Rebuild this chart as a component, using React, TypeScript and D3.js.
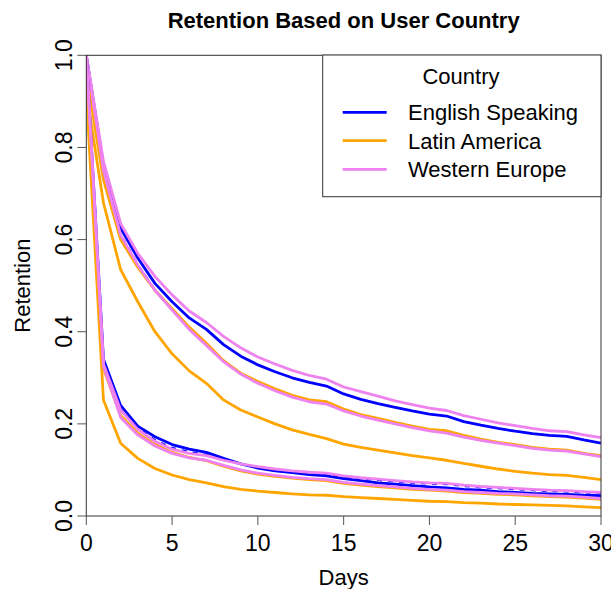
import React from "react";
import * as d3 from "d3";

// Days since signup
const days = d3.range(0, 31);

// Upper bundle of curves
const westernEuropeUpperA = [1.0, 0.77, 0.635, 0.57, 0.52, 0.48, 0.445, 0.42, 0.39, 0.365, 0.345, 0.33, 0.316, 0.305, 0.297, 0.28, 0.27, 0.26, 0.25, 0.242, 0.234, 0.229, 0.218, 0.21, 0.202, 0.196, 0.19, 0.185, 0.183, 0.176, 0.17];
const englishUpperA = [1.0, 0.76, 0.625, 0.56, 0.505, 0.465, 0.43, 0.405, 0.372, 0.347, 0.328, 0.313, 0.3, 0.29, 0.282, 0.265, 0.253, 0.244, 0.236, 0.228, 0.221, 0.217, 0.205, 0.197, 0.19, 0.184, 0.179, 0.175, 0.173, 0.165, 0.158];
const latinUpperA = [0.96, 0.73, 0.6, 0.54, 0.49, 0.45, 0.41, 0.375, 0.337, 0.31, 0.292, 0.276, 0.262, 0.252, 0.248, 0.232, 0.22, 0.212, 0.203, 0.195, 0.188, 0.185, 0.175, 0.167, 0.16, 0.155, 0.149, 0.145, 0.143, 0.136, 0.131];
const westernEuropeUpperB = [1.0, 0.75, 0.61, 0.545, 0.49, 0.447, 0.405, 0.37, 0.335, 0.308, 0.288, 0.272, 0.258, 0.248, 0.243, 0.228, 0.217, 0.208, 0.2, 0.192, 0.185, 0.18, 0.171, 0.164, 0.158, 0.153, 0.147, 0.143, 0.141, 0.135, 0.129];
const englishUpperB = [1.0, 0.752, 0.612, 0.546, 0.491, 0.448, 0.406, 0.371, 0.336, 0.309, 0.289, 0.273, 0.259, 0.249, 0.244, 0.229, 0.218, 0.209, 0.201, 0.193, 0.186, 0.181, 0.172, 0.165, 0.159, 0.154, 0.148, 0.144, 0.142, 0.136, 0.13];
const latinUpperB = [0.92, 0.68, 0.535, 0.465, 0.4, 0.352, 0.315, 0.288, 0.252, 0.23, 0.215, 0.2, 0.187, 0.177, 0.168, 0.156, 0.149, 0.143, 0.137, 0.131, 0.126, 0.121, 0.114, 0.108, 0.102, 0.097, 0.093, 0.09, 0.088, 0.084, 0.079];

// Lower bundle of curves
const englishLowerA = [1.0, 0.34, 0.24, 0.195, 0.172, 0.155, 0.145, 0.138, 0.125, 0.113, 0.104, 0.098, 0.094, 0.09, 0.087, 0.081, 0.077, 0.072, 0.069, 0.066, 0.063, 0.061, 0.058, 0.056, 0.053, 0.051, 0.049, 0.048, 0.047, 0.045, 0.044];
const westernEuropeLowerA = [1.0, 0.33, 0.23, 0.188, 0.162, 0.145, 0.136, 0.131, 0.121, 0.113, 0.107, 0.102, 0.098, 0.095, 0.093, 0.087, 0.083, 0.08, 0.077, 0.074, 0.072, 0.071, 0.067, 0.064, 0.062, 0.06, 0.058, 0.056, 0.055, 0.053, 0.051];
const latinLowerA = [0.95, 0.32, 0.218, 0.18, 0.155, 0.138, 0.127, 0.12, 0.108, 0.098, 0.091, 0.086, 0.082, 0.079, 0.077, 0.071, 0.067, 0.064, 0.061, 0.058, 0.056, 0.054, 0.051, 0.049, 0.047, 0.046, 0.044, 0.042, 0.041, 0.039, 0.036];
const westernEuropeLowerB = [1.0, 0.325, 0.214, 0.176, 0.152, 0.136, 0.126, 0.121, 0.11, 0.1, 0.093, 0.088, 0.084, 0.081, 0.079, 0.073, 0.069, 0.066, 0.063, 0.06, 0.058, 0.056, 0.053, 0.051, 0.049, 0.048, 0.046, 0.044, 0.043, 0.041, 0.038];
const englishLowerB = [0.92, 0.33, 0.232, 0.19, 0.165, 0.148, 0.139, 0.133, 0.122, 0.113, 0.106, 0.1, 0.096, 0.093, 0.091, 0.085, 0.081, 0.078, 0.075, 0.072, 0.07, 0.069, 0.065, 0.062, 0.06, 0.058, 0.056, 0.054, 0.053, 0.051, 0.049];
const latinLowerB = [0.92, 0.252, 0.158, 0.125, 0.103, 0.089, 0.079, 0.072, 0.064, 0.058, 0.054, 0.051, 0.048, 0.046, 0.045, 0.042, 0.04, 0.038, 0.036, 0.034, 0.032, 0.031, 0.029, 0.028, 0.026, 0.025, 0.024, 0.023, 0.022, 0.02, 0.018];

const countries = ["English Speaking", "Latin America", "Western Europe"];
const countryColors = ["#0000FF", "#FFA500", "#EE82EE"];

const xTicks = [0, 5, 10, 15, 20, 25, 30];
const yTicks = [0, 0.2, 0.4, 0.6, 0.8, 1.0];

type Series = { values: number[]; country: number; dashed?: boolean };

// dashed curves go first so the solid ones sit over them
const seriesList: Series[] = [
  { values: englishUpperB, country: 0, dashed: true },
  { values: englishLowerB, country: 0, dashed: true },
  { values: englishUpperA, country: 0 },
  { values: latinUpperA, country: 1 },
  { values: latinUpperB, country: 1 },
  { values: westernEuropeUpperA, country: 2 },
  { values: westernEuropeUpperB, country: 2 },
  { values: englishLowerA, country: 0 },
  { values: latinLowerA, country: 1 },
  { values: latinLowerB, country: 1 },
  { values: westernEuropeLowerA, country: 2 },
  { values: westernEuropeLowerB, country: 2 },
];

const W = 611;
const H = 589;
const left = 86.3;
const right = 601;
const top = 55.3;
const bottom = 516;
const font = "'Liberation Sans', Arial, Helvetica, sans-serif";

export default function App() {
  const x = d3.scaleLinear().domain([0, 30]).range([left, right]);
  const y = d3.scaleLinear().domain([0, 1]).range([bottom, top]);
  const line = d3
    .line<number>()
    .x((_, i) => x(days[i]))
    .y((v) => y(v));

  const legendX = 322.7;
  const legendY = 55;
  const legendW = right - legendX;
  const legendH = 141.7;
  const rowY = [112.3, 140.7, 169.3];

  return (
    <svg
      width={W}
      height={H}
      style={{ position: "absolute", left: 0, top: 0, background: "#fff" }}
      fontFamily={font}
    >
      <rect x={0} y={0} width={W} height={H} fill="#fff" />
      <defs>
        <clipPath id="plot-area">
          <rect x={left} y={top} width={right - left} height={bottom - top} />
        </clipPath>
      </defs>

      <text x={(left + right) / 2} y={28} textAnchor="middle" fontSize={22} fontWeight="bold" fill="#000">
        Retention Based on User Country
      </text>

      {/* curves */}
      <g clipPath="url(#plot-area)">
        {seriesList.map((s, i) => (
          <path
            key={i}
            d={line(s.values) || ""}
            fill="none"
            stroke={countryColors[s.country]}
            strokeWidth={s.dashed ? 2 : 2.8}
            strokeDasharray={s.dashed ? "5,6" : undefined}
            strokeLinejoin="round"
          />
        ))}
      </g>

      {/* frame */}
      <rect x={left} y={top} width={right - left} height={bottom - top} fill="none" stroke="#333" strokeWidth={1} />

      {/* x axis */}
      {xTicks.map((t) => (
        <g key={"x" + t}>
          <line x1={x(t)} x2={x(t)} y1={bottom} y2={bottom + 9} stroke="#555" strokeWidth={1} />
          <text x={x(t)} y={551} textAnchor="middle" fontSize={23} fill="#000">
            {t}
          </text>
        </g>
      ))}
      <text x={(left + right) / 2} y={585} textAnchor="middle" fontSize={22} fill="#000">
        Days
      </text>

      {/* y axis */}
      {yTicks.map((t) => (
        <g key={"y" + t}>
          <line x1={left - 9} x2={left} y1={y(t)} y2={y(t)} stroke="#555" strokeWidth={1} />
          <text
            transform={`translate(72,${y(t)}) rotate(-90)`}
            textAnchor="middle"
            fontSize={23}
            fill="#000"
          >
            {t.toFixed(1)}
          </text>
        </g>
      ))}
      <text
        transform={`translate(30,${(top + bottom) / 2}) rotate(-90)`}
        textAnchor="middle"
        fontSize={22}
        fill="#000"
      >
        Retention
      </text>

      {/* legend */}
      <rect x={legendX} y={legendY} width={legendW} height={legendH} fill="#fff" stroke="#333" strokeWidth={1} />
      <text x={461} y={84} textAnchor="middle" fontSize={22} fill="#000">
        Country
      </text>
      {countries.map((c, i) => (
        <g key={c}>
          <line x1={342.7} x2={386.7} y1={rowY[i]} y2={rowY[i]} stroke={countryColors[i]} strokeWidth={2.8} />
          <text x={408} y={rowY[i] + 8} fontSize={22} fill="#000">
            {c}
          </text>
        </g>
      ))}
    </svg>
  );
}
